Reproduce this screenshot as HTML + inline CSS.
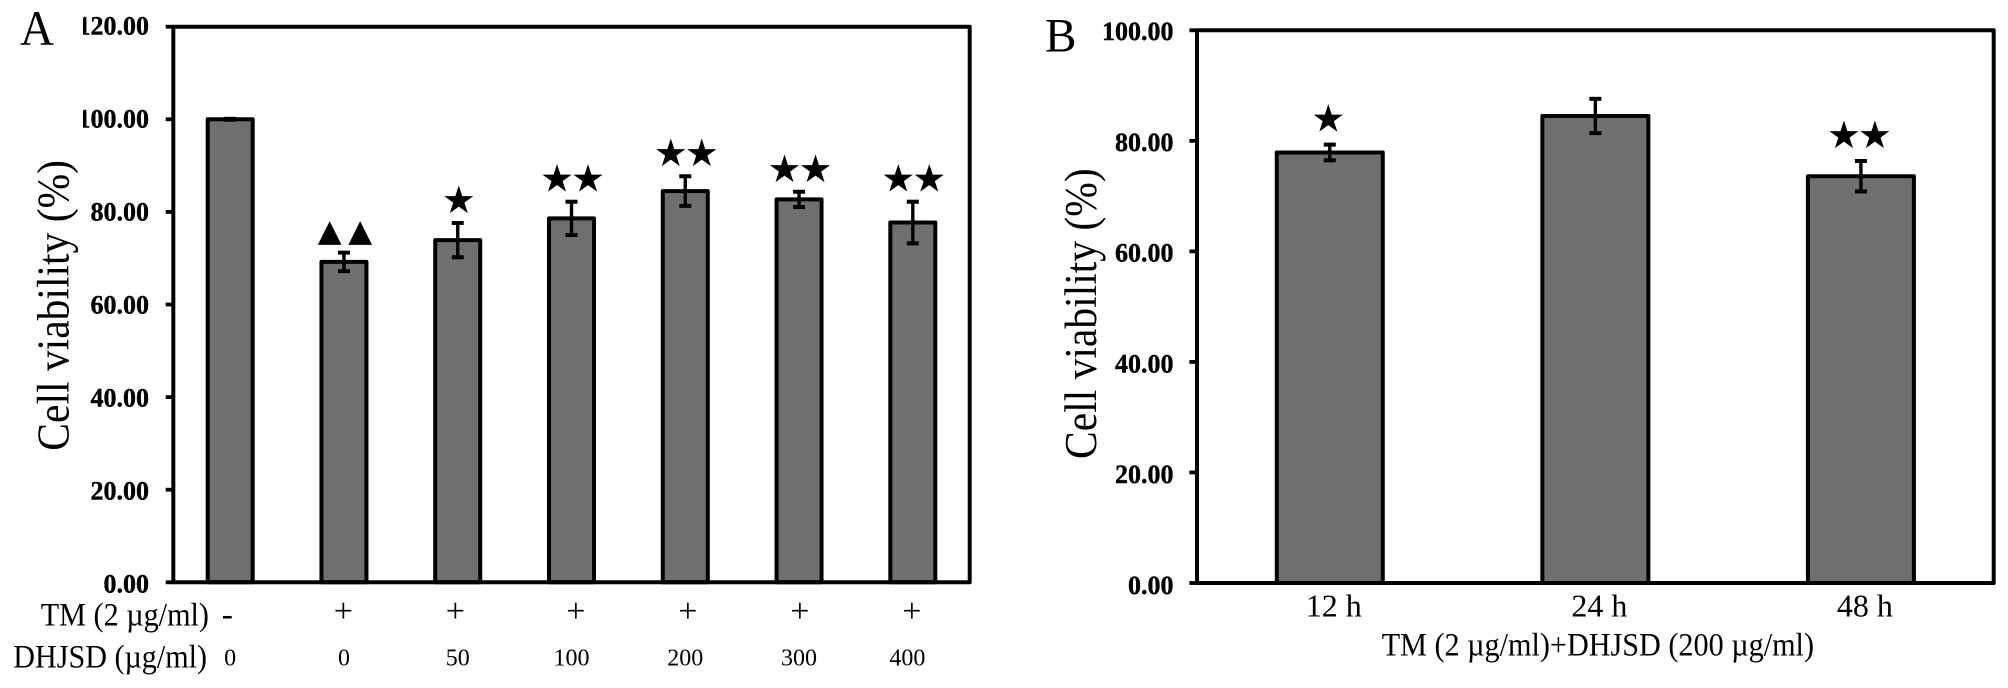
<!DOCTYPE html>
<html lang="en">
<head>
<meta charset="utf-8">
<title>Cell viability bar charts</title>
<style>
html,body{margin:0;padding:0;background:#fff;}
svg{display:block;}
text{font-family:"Liberation Serif",serif;fill:#000;}
.tick{font-size:26px;font-weight:bold;text-anchor:end;stroke:#000;stroke-width:0.4px;}
.mark{font-family:"DejaVu Sans",sans-serif;text-anchor:middle;}
</style>
</head>
<body>
<svg id="figure" xmlns="http://www.w3.org/2000/svg" width="2008" height="688" viewBox="0 0 2008 688">
  <defs>
    <clipPath id="clip-a"><rect x="83" y="0" width="200" height="688"></rect></clipPath>
  </defs>
  <rect x="0" y="0" width="2008" height="688" fill="#ffffff"></rect>
  <text x="20" y="45" font-size="50" textLength="34" lengthAdjust="spacingAndGlyphs">A</text>
  <text x="1045" y="51.5" font-size="48" textLength="31.5" lengthAdjust="spacingAndGlyphs">B</text>
  <text transform="translate(68.3 450.7) rotate(-90)" font-size="45" textLength="290.7" lengthAdjust="spacingAndGlyphs">Cell viability (%)</text>
  <text transform="translate(1096 459) rotate(-90)" font-size="45" textLength="290.7" lengthAdjust="spacingAndGlyphs">Cell viability (%)</text>
  <text x="40.7" y="625.7" font-size="33" textLength="168.3" lengthAdjust="spacingAndGlyphs">TM (2 µg/ml)</text>
  <text x="13.3" y="667.3" font-size="33" textLength="193.7" lengthAdjust="spacingAndGlyphs">DHJSD (µg/ml)</text>
  <text x="1381.7" y="655.7" font-size="33" textLength="432.3" lengthAdjust="spacingAndGlyphs">TM (2 µg/ml)+DHJSD (200 µg/ml)</text>
</svg>
<script>
// Panel A data
const aValues = [100, 69.2, 73.9, 78.6, 84.5, 82.7, 77.7];
const aErrors = [0.1, 2.0, 3.7, 3.6, 3.2, 1.65, 4.5];
const aMarkCounts = [0, 2, 1, 2, 2, 2, 2];
const aMarkGlyphs = ['★', '▲', '★', '★', '★', '★', '★'];
const aTmSigns = ['-', '+', '+', '+', '+', '+', '+'];
const aDoses = ['0', '0', '50', '100', '200', '300', '400'];
const aTicks = [0, 20, 40, 60, 80, 100, 120];
// Panel B data
const bValues = [77.9, 84.5, 73.6];
const bErrors = [1.42, 3.1, 2.75];
const bMarkCounts = [1, 0, 2];
const bCategories = ['12 h', '24 h', '48 h'];
const bTicks = [0, 20, 40, 60, 80, 100];

const NS = 'http://www.w3.org/2000/svg';
const svg = document.getElementById('figure');
function make(tag, attrs, text) {
  const el = document.createElementNS(NS, tag);
  for (const k in attrs) el.setAttribute(k, attrs[k]);
  if (text !== undefined) el.textContent = text;
  svg.appendChild(el);
  return el;
}
function line(x1, y1, x2, y2, w) {
  return make('line', {x1: x1, y1: y1, x2: x2, y2: y2, stroke: '#000', 'stroke-width': w});
}

function drawPanel(p) {
  const n = p.values.length;
  const band = (p.right - p.left) / n;
  const xScale = i => p.left + band * (i + 0.5);
  const yScale = v => p.bottom - (p.bottom - p.top) * v / p.max;

  p.values.forEach((v, i) => {
    const cx = xScale(i);
    const bar = make('rect', {x: cx - p.barWidth / 2, y: yScale(v), width: p.barWidth, height: yScale(0) - yScale(v), fill: '#6f6f6f', stroke: '#000', 'stroke-width': 4, 'stroke-linejoin': 'round'});
    
    

    const e = p.errors[i];
    const stem = line(cx, yScale(v + e), cx, yScale(v - e), 3.4);
    
    
    const capTop = line(cx - 6, yScale(v + e), cx + 6, yScale(v + e), 4);
    
    
    const capBottom = line(cx - 6, yScale(v - e), cx + 6, yScale(v - e), 4);
    
    

    const count = p.markCounts[i];
    const glyph = p.markGlyphs ? p.markGlyphs[i] : '★';
    const isTri = glyph === '▲';
    const size = isTri ? 31 : 38;
    const gap = isTri ? 30.5 : 31;
    for (let k = 0; k < count; k++) {
      const mx = cx + p.markDx + (k - (count - 1) / 2) * gap;
      const my = yScale(v + e) - p.markGap - (isTri ? 1.5 : 0);
      const mark = make('text', {x: mx, y: my, 'font-size': size, class: 'mark'}, glyph);
      
      
    }
  });

  const frame = make('rect', {x: p.left, y: p.top, width: p.right - p.left, height: p.bottom - p.top, fill: 'none', stroke: '#000', 'stroke-width': 4, 'stroke-linejoin': 'round'});
  
  

  p.ticks.forEach(t => {
    const mark = line(p.left - 7.6, yScale(t), p.left, yScale(t), 3.8);
    
    
    const attrs = {x: p.labelRight, y: yScale(t) + p.labelBase - p.labelDrift * t / p.max, class: 'tick'};
    if (p.labelClip) attrs['clip-path'] = p.labelClip;
    const label = make('text', attrs, t.toFixed(2));
    
    
  });
  return xScale;
}

const xA = drawPanel({id: 'panel-a', values: aValues, errors: aErrors, markCounts: aMarkCounts, markGlyphs: aMarkGlyphs, ticks: aTicks,
  left: 173.3, right: 969.7, top: 26.7, bottom: 582.3, max: 120, barWidth: 45, markDx: 1, markGap: 10,
  labelRight: 149, labelBase: 10, labelDrift: 2.4, labelClip: 'url(#clip-a)'});

const xB = drawPanel({id: 'panel-b', values: bValues, errors: bErrors, markCounts: bMarkCounts, ticks: bTicks,
  left: 1197, right: 1993.7, top: 30.3, bottom: 583, max: 100, barWidth: 106, markDx: -1.5, markGap: 13,
  labelRight: 1173.5, labelBase: 11, labelDrift: 1.3});

aTmSigns.forEach((s, i) => {
  const isMinus = s === '-';
  const sign = make('text', {x: 231.3 + 112 * i + (i >= 3 ? 8.5 : 0) - (isMinus ? 4 : 0), y: isMinus ? 625 : 622, 'font-size': 34, 'text-anchor': 'middle'}, s);
  
  
});
aDoses.forEach((d, i) => {
  const dose = make('text', {x: xA(i) - (i === 6 ? 5.5 : 0), y: 665.7, 'font-size': 24, 'text-anchor': 'middle'}, d);
  
  
});
bCategories.forEach((c, i) => {
  const cat = make('text', {x: xB(i) + 4, y: 616.7, 'font-size': 32, 'text-anchor': 'middle'}, c);
  
  
});
</script>
</body>
</html>
